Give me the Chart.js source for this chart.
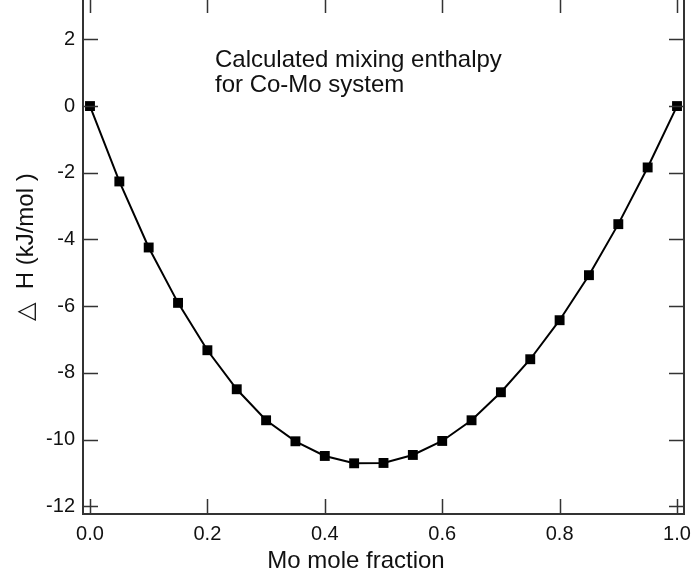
<!DOCTYPE html>
<html>
<head>
<meta charset="utf-8">
<script src="https://cdn.jsdelivr.net/npm/chart.js@4/dist/chart.umd.min.js"></script>
<style>
  html, body { margin: 0; padding: 0; background: #fff; }
  #wrap { width: 691px; height: 583px; }
</style>
</head>
<body>
<div id="wrap"><canvas id="grafico"></canvas></div>
<script>
// Mo mole fraction and calculated mixing enthalpy (kJ/mol)
var fraccion = [0.00, 0.05, 0.10, 0.15, 0.20, 0.25, 0.30, 0.35, 0.40, 0.45, 0.50,
                0.55, 0.60, 0.65, 0.70, 0.75, 0.80, 0.85, 0.90, 0.95, 1.00];
var entalpia = [0.00, -2.26, -4.24, -5.90, -7.32, -8.49, -9.42, -10.05, -10.49, -10.71, -10.70,
                -10.46, -10.04, -9.42, -8.58, -7.59, -6.42, -5.07, -3.54, -1.84, 0.00];
var ticksX = [0.0, 0.2, 0.4, 0.6, 0.8, 1.0];
var ticksY = [-12, -10, -8, -6, -4, -2, 0, 2];
var nota = ["Calculated mixing enthalpy", "for Co-Mo system"];
var tituloX = 'Mo mole fraction';
var tituloY = '\u25B3  H (kJ/mol )';

var puntos = fraccion.map(function (x, i) { return { x: x, y: entalpia[i] }; });

var colorEje = '#333333';
var fuente = "'Liberation Sans', Arial, sans-serif";

// ticks hacia dentro, eje derecho, titulos y texto de la nota
var marcos = {
    id: 'marcos',
    afterDraw: function (chart) {
        var ctx = chart.ctx;
        var a = chart.chartArea;
        var sx = chart.scales.x, sy = chart.scales.y;
        var largo = 15;
        ctx.save();
        ctx.strokeStyle = colorEje;
        ctx.lineWidth = 2;
        ctx.beginPath();
        ctx.moveTo(a.right, a.top);
        ctx.lineTo(a.right, a.bottom + 1);
        ctx.stroke();
        ctx.lineWidth = 1.5;
        ctx.beginPath();
        ticksX.forEach(function (v) {
            var px = Math.round(sx.getPixelForValue(v)) + 0.5;
            ctx.moveTo(px, a.bottom);
            ctx.lineTo(px, a.bottom - largo);
            ctx.moveTo(px, a.top);
            ctx.lineTo(px, a.top + 13);
        });
        ticksY.forEach(function (v) {
            var py = Math.round(sy.getPixelForValue(v)) + 0.5;
            ctx.moveTo(a.left, py);
            ctx.lineTo(a.left + largo, py);
            ctx.moveTo(a.right, py);
            ctx.lineTo(a.right - largo, py);
        });
        ctx.stroke();

        ctx.fillStyle = '#111';
        ctx.font = '24px ' + fuente;
        ctx.textAlign = 'left';
        ctx.textBaseline = 'alphabetic';
        ctx.fillText(nota[0], 215, 67);
        ctx.fillText(nota[1], 215, 92);

        ctx.textAlign = 'center';
        ctx.textBaseline = 'middle';
        ctx.fillText(tituloX, 356, 561);

        ctx.translate(26, 247);
        ctx.rotate(-Math.PI / 2);
        ctx.fillText(tituloY, 0, 0);
        ctx.restore();
    }
};

var migrafico = new Chart(document.getElementById('grafico'), {
    type: 'scatter',
    data: {
        datasets: [{
            data: puntos,
            showLine: true,
            borderColor: '#000',
            borderWidth: 2,
            backgroundColor: '#000',
            pointStyle: 'rect',
            pointRadius: 7,
            pointHoverRadius: 7,
            pointBorderWidth: 0,
            tension: 0,
            clip: false
        }]
    },
    options: {
        responsive: true,
        maintainAspectRatio: false,
        animation: false,
        layout: { autoPadding: false, padding: { top: 0, right: 7, left: 0, bottom: 0 } },
        plugins: {
            legend: { display: false },
            tooltip: { enabled: false }
        },
        scales: {
            x: {
                type: 'linear',
                min: -0.0119,
                max: 1.0119,
                afterFit: function (s) {
                    s.height = 69;
                    s.paddingLeft = 0;
                    s.paddingRight = 0;
                },
                afterBuildTicks: function (s) {
                    s.ticks = ticksX.map(function (v) { return { value: v }; });
                },
                grid: { display: false, drawTicks: false },
                border: { display: true, color: colorEje, width: 2 },
                ticks: {
                    padding: 8,
                    color: '#111',
                    font: { family: fuente, size: 20 },
                    callback: function (v) { return v.toFixed(1); }
                }
            },
            y: {
                type: 'linear',
                min: -12.23,
                max: 3.18,
                afterFit: function (s) {
                    s.width = 83;
                    s.paddingTop = 0;
                    s.paddingBottom = 0;
                },
                afterBuildTicks: function (s) {
                    s.ticks = ticksY.map(function (v) { return { value: v }; });
                },
                grid: { display: false, drawTicks: false },
                border: { display: true, color: colorEje, width: 2 },
                ticks: {
                    padding: 8,
                    color: '#111',
                    font: { family: fuente, size: 20 },
                    callback: function (v) { return String(v); }
                }
            }
        }
    },
    plugins: [marcos]
});
</script>
</body>
</html>
